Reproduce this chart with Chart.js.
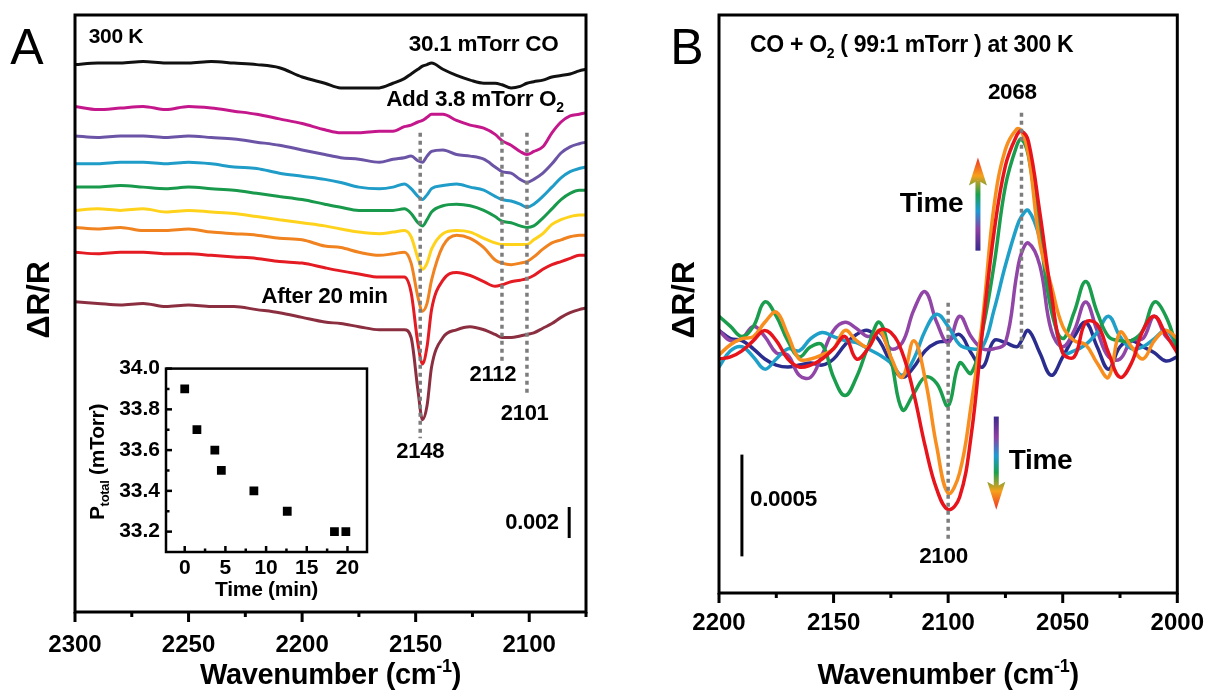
<!DOCTYPE html>
<html>
<head>
<meta charset="utf-8">
<script src="https://cdn.jsdelivr.net/npm/chart.js@4.4.1/dist/chart.umd.min.js"></script>
<style>
  html, body { margin: 0; padding: 0; background: #fff; }
  #wrap { position: relative; width: 1220px; height: 692px; overflow: hidden; background: #fff; }
  canvas { position: absolute; }
</style>
</head>
<body>
<div id="wrap">
  <canvas id="cA" width="610" height="692" style="left:0;top:0;width:610px;height:692px;z-index:1"></canvas>
  <canvas id="cIn" width="330" height="262" style="left:60px;top:350px;width:330px;height:262px;z-index:2"></canvas>
  <canvas id="cB" width="580" height="692" style="left:640px;top:0;width:580px;height:692px;z-index:1"></canvas>
</div>
<script>
// ---------------- Panel A: ΔR/R spectra, stacked (units of 1e-4 ΔR/R incl. offset) ----------------
const wavenumberA = [2300,2290,2280,2270,2260,2250,2240,2230,2220,2210,2200,2190,2183,2175,2166,2160,2155,2152,2149,2147,2145,2143,2138,2132,2126,2120,2115,2112,2108,2104,2101,2098,2094,2090,2086,2082,2078,2075];
const coOnly   = [353,354,354,355,354,354,355,354,353,351,345,341,338,338,338,341,344,347,350,352,353,354,350,346,343,341,341,340,338,339,341,342,343,345,346,347,349,350];
const o2Scan1  = [326,324,325,326,324,326,325,323,321,318,315,311,309,309,310,310,313,314,316,317,319,321,321,317,314,312,308,304,301,297,295,297,300,309,316,320,321,322];
const o2Scan2  = [307,306,307,307,306,307,306,305,303,301,298,295,293,292,290,292,293,294,291,290,294,297,298,295,294,292,287,284,283,279,277,279,283,289,296,300,302,303];
const o2Scan3  = [289,289,290,290,289,290,289,287,286,283,281,279,277,274,273,274,276,273,268,266,269,273,275,276,274,272,268,266,265,263,261,263,268,274,280,284,286,287];
const o2Scan4  = [274,274,275,274,273,274,273,272,270,268,266,263,261,259,259,259,260,257,251,249,253,258,262,263,262,259,255,252,251,249,248,249,254,260,266,270,272,272];
const o2Scan5  = [259,260,259,260,258,259,258,257,255,253,251,249,247,245,244,245,246,242,228,221,225,234,244,246,245,241,238,237,237,237,237,240,244,250,253,255,256,256];
const o2Scan6  = [248,247,248,246,246,247,245,244,243,241,240,236,235,232,230,231,232,225,203,194,199,214,236,243,241,235,227,225,224,225,226,229,234,238,240,242,243,243];
const o2Scan7  = [232,231,232,232,231,231,230,229,228,226,225,222,220,218,216,216,216,206,173,160,171,195,214,219,217,213,210,211,213,214,215,217,221,224,226,228,230,230];
const after20  = [200,199,198,199,197,198,197,197,195,193,190,187,186,184,182,182,182,177,143,124,133,158,177,182,184,182,179,177,177,178,179,180,183,186,190,193,195,196];
const ticksA = [2300, 2250, 2200, 2150, 2100];
const minorA = [2275, 2225, 2175, 2125, 2075];
const peaksA = [2148, 2112, 2101];
const scaleBarA = 0.002;

// ---------------- Inset: total pressure vs time ----------------
const timeMin = [0, 1.5, 3.7, 4.5, 8.5, 12.6, 18.4, 19.8];
const pTotal  = [33.9, 33.7, 33.6, 33.5, 33.4, 33.3, 33.2, 33.2];
const insetXTicks = [0, 5, 10, 15, 20];
const insetYTicks = [33.2, 33.4, 33.6, 33.8, 34.0];

// ---------------- Panel B: difference spectra (units of 1e-5 ΔR/R) ----------------
const wavenumberB = [2200,2195,2190,2185,2180,2175,2170,2165,2160,2155,2150,2145,2140,2135,2130,2125,2120,2115,2110,2105,2100,2095,2090,2085,2080,2075,2070,2068,2065,2060,2055,2050,2045,2040,2035,2030,2025,2020,2015,2010,2005,2000];
const diff1 = [7,3,2,-2,-7,-10,-11,-10,-9,-10,-7,0,5,7,2,-9,-16,-11,-3,1,2,5,-4,-11,2,1,-1,2,7,-4,-15,-6,4,11,-1,-12,-1,2,-1,-4,-8,-6];
const diff2 = [7,2,3,9,4,-4,-5,-15,-16,-5,7,11,8,4,6,-2,1,17,26,11,1,14,4,-2,-2,1,35,45,50,39,7,-1,7,21,7,-6,-7,2,3,14,4,-1];
const diff3 = [-11,-3,-1,-6,-12,-7,-2,-3,3,6,4,2,1,-2,-5,-9,-15,-7,7,15,9,0,-2,-1,17,39,58,63,66,52,22,-4,-3,0,6,14,4,-2,-1,3,7,-1];
const diff4 = [14,9,4,9,21,14,2,-6,-1,0,-16,-25,-16,-1,11,-7,-32,-24,-16,-19,-30,-9,-14,7,39,78,98,101,93,55,17,3,16,31,16,4,2,2,7,21,14,-2];
const diff5 = [-5,0,3,4,11,16,5,-7,-7,-5,-2,7,2,-1,7,-6,-16,2,-17,-50,-73,-63,-30,12,68,96,106,105,94,50,29,9,2,0,-9,-16,6,-1,-7,2,7,3];
const diff6 = [-7,-6,-3,2,7,2,-7,-11,-10,-7,-2,4,-7,-2,7,6,-4,-24,-50,-71,-81,-75,-45,7,55,88,103,105,100,65,25,-4,-6,11,10,-4,-16,-9,7,14,5,-4];
const ticksB = [2200, 2150, 2100, 2050, 2000];
const minorB = [2175, 2125, 2075, 2025];
const peaksB = [2068, 2100];
const scaleBarB = 0.0005;

// ---------------- drawing helpers ----------------
const FAMILY = "'Liberation Sans', Arial, Helvetica, sans-serif";
Chart.defaults.font.family = FAMILY;
Chart.defaults.color = '#000';

function drawRich(ctx, parts, x, y, opt) {
  const size = opt.size, weight = opt.weight || 'bold', align = opt.align || 'left';
  ctx.save();
  ctx.fillStyle = opt.color || '#000';
  ctx.textBaseline = 'middle';
  ctx.textAlign = 'left';
  if ('letterSpacing' in ctx) ctx.letterSpacing = (opt.ls !== undefined ? opt.ls : -0.3) + 'px';
  if (opt.rotate) { ctx.translate(x, y); ctx.rotate(opt.rotate); x = 0; y = 0; }
  const items = parts.map(p => {
    const fs = p.s ? Math.round(size * 0.62) : size;
    const font = `${weight} ${fs}px ${FAMILY}`;
    ctx.font = font;
    return { t: p.t, s: p.s, font, w: ctx.measureText(p.t).width };
  });
  const total = items.reduce((a, it) => a + it.w, 0);
  let cx = align === 'center' ? x - total / 2 : align === 'right' ? x - total : x;
  items.forEach(it => {
    ctx.font = it.font;
    const dy = it.s === 'sub' ? size * 0.33 : it.s === 'sup' ? -size * 0.3 : 0;
    ctx.fillText(it.t, cx, y + dy);
    cx += it.w;
  });
  ctx.restore();
}

function drawFrame(chart, lw) {
  const { ctx, chartArea: a } = chart;
  ctx.save();
  ctx.strokeStyle = '#000';
  ctx.lineWidth = lw;
  ctx.strokeRect(a.left, a.top, a.right - a.left, a.bottom - a.top);
  ctx.restore();
}

function drawXTicks(chart, values, len, lw, inward) {
  const { ctx, chartArea: a, scales: { x } } = chart;
  ctx.save();
  ctx.strokeStyle = '#000';
  ctx.lineWidth = lw;
  values.forEach(v => {
    const px = x.getPixelForValue(v);
    ctx.beginPath();
    ctx.moveTo(px, a.bottom);
    ctx.lineTo(px, a.bottom + (inward ? -len : len));
    ctx.stroke();
  });
  ctx.restore();
}

function drawYTicks(chart, values, len, lw) {
  const { ctx, chartArea: a, scales: { y } } = chart;
  ctx.save();
  ctx.strokeStyle = '#000';
  ctx.lineWidth = lw;
  values.forEach(v => {
    const py = y.getPixelForValue(v);
    ctx.beginPath();
    ctx.moveTo(a.left, py);
    ctx.lineTo(a.left + len, py);
    ctx.stroke();
  });
  ctx.restore();
}

function drawDotted(chart, pos, from, to) {
  const { ctx, scales: { x, y } } = chart;
  const px = x.getPixelForValue(pos);
  ctx.save();
  ctx.strokeStyle = '#7d7d7d';
  ctx.lineWidth = 3.5;
  ctx.setLineDash([4, 4]);
  ctx.beginPath();
  ctx.moveTo(px, y.getPixelForValue(from));
  ctx.lineTo(px, y.getPixelForValue(to));
  ctx.stroke();
  ctx.restore();
}

function drawScaleBar(chart, pos, from, span) {
  const { ctx, scales: { x, y } } = chart;
  const px = x.getPixelForValue(pos);
  ctx.save();
  ctx.strokeStyle = '#000';
  ctx.lineWidth = 3;
  ctx.beginPath();
  ctx.moveTo(px, y.getPixelForValue(from));
  ctx.lineTo(px, y.getPixelForValue(from + span));
  ctx.stroke();
  ctx.restore();
}

const arrowStops = [[0, '#3d2a8c'], [0.22, '#8c3fa2'], [0.42, '#1f9ad4'], [0.6, '#1aa04c'], [0.8, '#f6a11c'], [1, '#ef2f23']];
function drawTimeArrow(chart, pos, fromV, toV) {
  const { ctx, scales: { x, y } } = chart;
  const px = x.getPixelForValue(pos);
  const yBase = y.getPixelForValue(fromV), yTip = y.getPixelForValue(toV);
  const dir = Math.sign(yTip - yBase);
  const headLen = 28, headHalf = 9, notch = 5, shaft = 5;
  const g = ctx.createLinearGradient(0, yBase, 0, yTip);
  arrowStops.forEach(([o, c]) => g.addColorStop(o, c));
  ctx.save();
  ctx.fillStyle = g;
  const yNeck = yTip - dir * (headLen - notch);
  ctx.fillRect(px - shaft / 2, Math.min(yBase, yNeck), shaft, Math.abs(yNeck - yBase) + 1);
  ctx.beginPath();
  ctx.moveTo(px, yTip);
  ctx.lineTo(px + headHalf, yTip - dir * headLen);
  ctx.lineTo(px, yNeck);
  ctx.lineTo(px - headHalf, yTip - dir * headLen);
  ctx.closePath();
  ctx.fill();
  ctx.restore();
}

const wavenumberTitle = [{ t: 'Wavenumber (cm' }, { t: '-1', s: 'sup' }, { t: ')' }];
const deltaTitle = [{ t: '\u0394R/R' }];

// ---------------- Panel A chart ----------------
const seriesA = [
  { values: coOnly,  color: '#111111' },
  { values: o2Scan1, color: '#c4178c' },
  { values: o2Scan2, color: '#6b54a6' },
  { values: o2Scan3, color: '#1f9cc8' },
  { values: o2Scan4, color: '#19994b' },
  { values: o2Scan5, color: '#ffd21c' },
  { values: o2Scan6, color: '#f08320' },
  { values: o2Scan7, color: '#e41b22' },
  { values: after20, color: '#8b2f40' }
];

const decorA = {
  id: 'decorA',
  afterDatasetsDraw(chart) {
    drawDotted(chart, peaksA[0], 309, 112);
    drawDotted(chart, peaksA[1], 309, 161);
    drawDotted(chart, peaksA[2], 309, 139);
  },
  afterDraw(chart) {
    const { ctx, chartArea: a, scales: { x, y } } = chart;
    drawFrame(chart, 3);
    drawXTicks(chart, ticksA, 10, 3, false);
    drawXTicks(chart, minorA, 5, 3, false);
    const X = v => x.getPixelForValue(v), Y = v => y.getPixelForValue(v);
    drawRich(ctx, [{ t: '300 K' }], X(2294), Y(371), { size: 21 });
    drawRich(ctx, [{ t: '30.1 mTorr CO' }], X(2153), Y(366), { size: 22.5 });
    drawRich(ctx, [{ t: 'Add 3.8 mTorr O' }, { t: '2', s: 'sub' }], X(2163), Y(330), { size: 22.5 });
    drawRich(ctx, [{ t: 'After 20 min' }], X(2218), Y(203), { size: 22.5 });
    drawRich(ctx, [{ t: String(peaksA[0]) }], X(peaksA[0]), Y(103), { size: 22, align: 'center' });
    drawRich(ctx, [{ t: String(peaksA[1]) }], X(2116), Y(153), { size: 22, align: 'center' });
    drawRich(ctx, [{ t: String(peaksA[2]) }], X(2102), Y(128), { size: 22, align: 'center' });
    const barUnits = scaleBarA / 1e-4;
    drawScaleBar(chart, 2082.4, 47.7, barUnits);
    drawRich(ctx, [{ t: String(scaleBarA) }], X(2087), Y(47.7 + barUnits / 2), { size: 22, align: 'right' });
    drawRich(ctx, wavenumberTitle, (a.left + a.right) / 2, 676, { size: 29, align: 'center' });
    drawRich(ctx, deltaTitle, 40, 300, { size: 32, align: 'center', rotate: -Math.PI / 2 });
    drawRich(ctx, [{ t: 'A' }], 27, 50, { size: 50, weight: 'normal', align: 'center', ls: 0 });
  }
};

new Chart(document.getElementById('cA'), {
  type: 'line',
  data: {
    datasets: seriesA.map((s, i) => ({
      data: wavenumberA.map((w, k) => ({ x: w, y: s.values[k] })),
      borderColor: s.color,
      borderWidth: 3,
      pointRadius: 0,
      cubicInterpolationMode: 'monotone',
      fill: false,
      order: i
    }))
  },
  options: {
    responsive: false,
    animation: false,
    events: [],
    layout: { padding: { left: 75, top: 15, right: 24, bottom: 0 } },
    plugins: { legend: { display: false }, tooltip: { enabled: false } },
    scales: {
      x: {
        type: 'linear', reverse: true, min: 2075, max: 2300,
        afterBuildTicks: s => { s.ticks = ticksA.map(v => ({ value: v })); },
        afterFit: s => { s.height = 80; },
        grid: { display: false, drawTicks: false },
        border: { display: false },
        ticks: { font: { size: 24, weight: 'bold' }, color: '#000', padding: 19, maxRotation: 0, autoSkip: false, callback: v => String(v) }
      },
      y: { display: false, min: 0, max: 385 }
    }
  },
  plugins: [decorA]
});

// ---------------- Inset chart ----------------
const decorIn = {
  id: 'decorIn',
  afterDraw(chart) {
    const { ctx, chartArea: a } = chart;
    drawFrame(chart, 2.5);
    drawXTicks(chart, insetXTicks, 6, 2.5, true);
    drawXTicks(chart, [2.5, 7.5, 12.5, 17.5], 3.5, 2.5, true);
    drawYTicks(chart, insetYTicks, 6, 2.5);
    drawYTicks(chart, [33.3, 33.5, 33.7, 33.9], 3.5, 2.5);
    drawRich(ctx, [{ t: 'Time (min)' }], (a.left + a.right) / 2, 240, { size: 21, align: 'center' });
    drawRich(ctx, [{ t: 'P' }, { t: 'total', s: 'sub' }, { t: ' (mTorr)' }], 38, 112, { size: 21, align: 'center', rotate: -Math.PI / 2 });
  }
};

new Chart(document.getElementById('cIn'), {
  type: 'scatter',
  data: {
    datasets: [{
      data: timeMin.map((t, k) => ({ x: t, y: pTotal[k] })),
      pointStyle: 'rect',
      pointRadius: 6.2,
      pointBackgroundColor: '#000',
      pointBorderWidth: 0
    }]
  },
  options: {
    responsive: false,
    animation: false,
    events: [],
    layout: { padding: { left: 0, top: 18, right: 23, bottom: 0 } },
    plugins: { legend: { display: false }, tooltip: { enabled: false } },
    scales: {
      x: {
        type: 'linear', min: -2.3, max: 22.4,
        afterBuildTicks: s => { s.ticks = insetXTicks.map(v => ({ value: v })); },
        afterFit: s => { s.height = 60; },
        grid: { display: false, drawTicks: false },
        border: { display: false },
        ticks: { font: { size: 21, weight: 'bold' }, color: '#000', padding: 4, maxRotation: 0, autoSkip: false, callback: v => String(v) }
      },
      y: {
        type: 'linear', min: 33.1, max: 34.0,
        afterBuildTicks: s => { s.ticks = insetYTicks.map(v => ({ value: v })); },
        afterFit: s => { s.width = 106; },
        grid: { display: false, drawTicks: false },
        border: { display: false },
        ticks: { font: { size: 21, weight: 'bold' }, color: '#000', padding: 6, autoSkip: false, callback: v => Number(v).toFixed(1) }
      }
    }
  },
  plugins: [decorIn]
});

// ---------------- Panel B chart ----------------
const seriesB = [
  { values: diff1, color: '#2b2d8e' },
  { values: diff2, color: '#9045a7' },
  { values: diff3, color: '#1fa0c9' },
  { values: diff4, color: '#1a9d4c' },
  { values: diff5, color: '#f78e1e' },
  { values: diff6, color: '#e8141c' }
];

const decorB = {
  id: 'decorB',
  afterDatasetsDraw(chart) {
    drawDotted(chart, peaksB[0], 114, -2.5);
    drawDotted(chart, peaksB[1], 20.6, -96);
  },
  afterDraw(chart) {
    const { ctx, chartArea: a, scales: { x, y } } = chart;
    const X = v => x.getPixelForValue(v), Y = v => y.getPixelForValue(v);
    drawFrame(chart, 3);
    drawXTicks(chart, ticksB, 10, 3, false);
    drawXTicks(chart, minorB, 5, 3, false);
    drawRich(ctx, [{ t: 'CO + O' }, { t: '2', s: 'sub' }, { t: ' ( 99:1 mTorr ) at 300 K' }], X(2186.5), Y(146.7), { size: 23 });
    drawRich(ctx, [{ t: String(peaksB[0]) }], X(2072), Y(123.7), { size: 22.5, align: 'center' });
    drawRich(ctx, [{ t: String(peaksB[1]) }], X(2102), Y(-104), { size: 22.5, align: 'center' });
    const barUnits = scaleBarB / 1e-5;
    drawScaleBar(chart, 2190, -104, barUnits);
    drawRich(ctx, [{ t: String(scaleBarB) }], X(2186.5), Y(-76), { size: 22.5 });
    drawTimeArrow(chart, 2087, 46.7, 92);
    drawRich(ctx, [{ t: 'Time' }], X(2093.4), Y(68.8), { size: 28, align: 'right' });
    drawTimeArrow(chart, 2079, -35.3, -81.1);
    drawRich(ctx, [{ t: 'Time' }], X(2073.6), Y(-57.4), { size: 28 });
    drawRich(ctx, wavenumberTitle, (a.left + a.right) / 2, 676, { size: 29, align: 'center' });
    drawRich(ctx, deltaTitle, 45, 300, { size: 32, align: 'center', rotate: -Math.PI / 2 });
    drawRich(ctx, [{ t: 'B' }], 47, 50, { size: 50, weight: 'normal', align: 'center', ls: 0 });
  }
};

new Chart(document.getElementById('cB'), {
  type: 'line',
  data: {
    datasets: seriesB.map((s, i) => ({
      data: wavenumberB.map((w, k) => ({ x: w, y: s.values[k] })),
      borderColor: s.color,
      borderWidth: 3.5,
      pointRadius: 0,
      tension: 0.4,
      fill: false,
      order: seriesB.length - i
    }))
  },
  options: {
    responsive: false,
    animation: false,
    events: [],
    layout: { padding: { left: 79, top: 15, right: 29, bottom: 0 } },
    plugins: { legend: { display: false }, tooltip: { enabled: false } },
    scales: {
      x: {
        type: 'linear', reverse: true, min: 2000, max: 2200,
        afterBuildTicks: s => { s.ticks = ticksB.map(v => ({ value: v })); },
        afterFit: s => { s.height = 99; },
        grid: { display: false, drawTicks: false },
        border: { display: false },
        ticks: { font: { size: 24, weight: 'bold' }, color: '#000', padding: 16, maxRotation: 0, autoSkip: false, callback: v => String(v) }
      },
      y: { display: false, min: -122, max: 162 }
    }
  },
  plugins: [decorB]
});
</script>
</body>
</html>
